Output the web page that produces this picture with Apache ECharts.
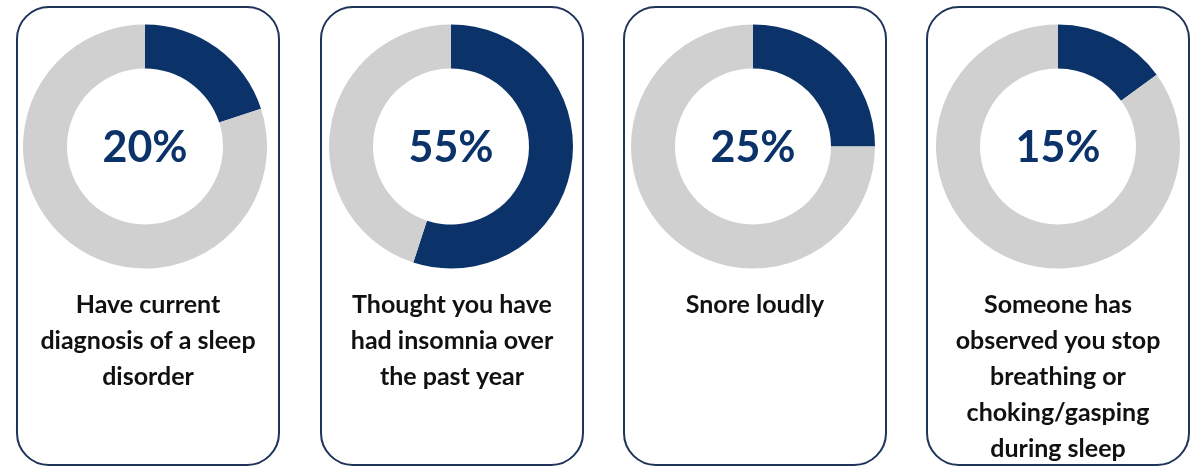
<!DOCTYPE html>
<html>
<head>
<meta charset="utf-8">
<script src="https://cdn.jsdelivr.net/npm/echarts@6/dist/echarts.min.js"></script>
<style>
  html, body { margin: 0; padding: 0; background: #ffffff; }
  #chart { width: 1203px; height: 466px; }
</style>
</head>
<body>
<div id="chart"></div>
<script>
// Survey share for each sleep question (percent of respondents)
const categories = [
  'Have current\ndiagnosis of a sleep\ndisorder',
  'Thought you have\nhad insomnia over\nthe past year',
  'Snore loudly',
  'Someone has\nobserved you stop\nbreathing or\nchoking/gasping\nduring sleep'
];
const percentValues = [20, 55, 25, 15];

// Layout of the four cards
const donutCenters = [145, 451, 753, 1058];
const cardLefts = [17, 321, 624, 927];
const cardWidth = 262;
const donutCy = 146.5;

const NAVY = '#0b3369';
const GREY = '#d0d0d0';
const FONT = 'Lato, "Open Sans", sans-serif';

const chart = echarts.init(document.getElementById('chart'), null, { renderer: 'canvas' });

const series = percentValues.map((v, i) => ({
  type: 'pie',
  center: [donutCenters[i], donutCy],
  radius: [78, 122],
  startAngle: 90,
  clockwise: true,
  silent: true,
  avoidLabelOverlap: false,
  labelLine: { show: false },
  emphasis: { disabled: true },
  data: [
    {
      value: v,
      name: 'yes',
      itemStyle: { color: NAVY },
      label: {
        show: true,
        position: 'center',
        offset: [0, 2],
        formatter: () => v + '%',
        color: NAVY,
        fontFamily: FONT,
        fontWeight: 'bold',
        fontSize: 43
      }
    },
    {
      value: 100 - v,
      name: 'no',
      itemStyle: { color: GREY },
      label: { show: false }
    }
  ]
}));

const graphics = [];
cardLefts.forEach((x, i) => {
  graphics.push({
    type: 'rect',
    z: -10,
    shape: { x: x, y: 7, width: cardWidth, height: 458, r: 32 },
    style: { fill: '#ffffff', stroke: '#1e3559', lineWidth: 2 }
  });
  graphics.push({
    type: 'text',
    x: x + cardWidth / 2,
    y: 287,
    style: {
      text: categories[i],
      align: 'center',
      verticalAlign: 'top',
      fill: '#111111',
      font: 'bold 25px ' + FONT,
      lineHeight: 36
    }
  });
});

chart.setOption({
  animation: false,
  backgroundColor: '#ffffff',
  series: series,
  graphic: graphics
});
</script>
</body>
</html>
